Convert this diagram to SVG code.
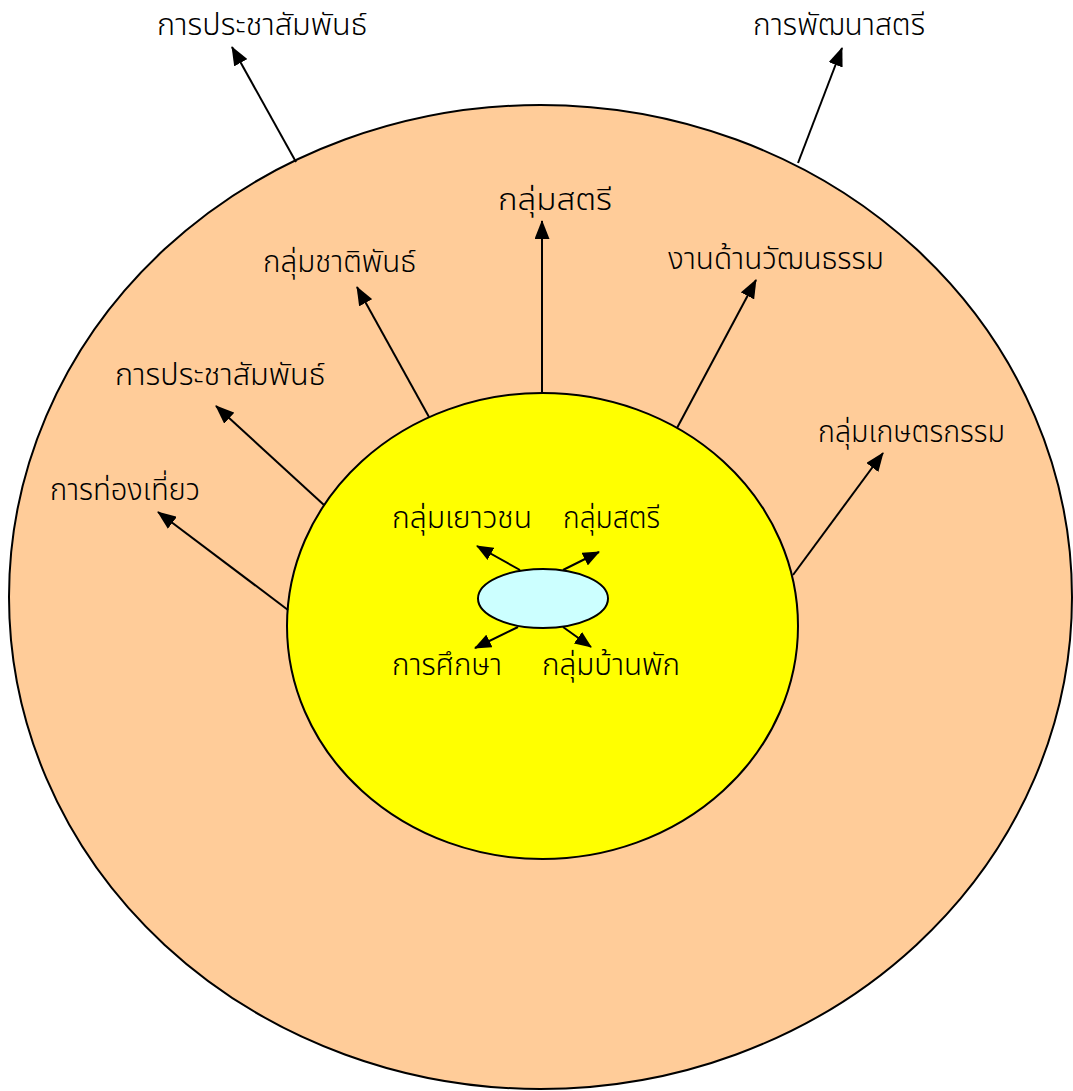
<svg xmlns="http://www.w3.org/2000/svg" width="1073" height="1091" viewBox="0 0 1073 1091">
<style>
.t{font-family:"Noto Sans Thai","Noto Sans","DejaVu Sans",sans-serif;font-size:30px;font-weight:300;fill:#000}
.c{stroke:#000;stroke-width:2;fill:none}
.e{stroke:#000;stroke-width:2}
</style>
<defs>
<marker id="a" viewBox="0 0 19 15" refX="18" refY="7.5" markerWidth="19" markerHeight="15" markerUnits="userSpaceOnUse" orient="auto">
<path d="M0,0 L19,7.5 L0,15 z" fill="#000"/>
</marker>
<marker id="b" viewBox="0 0 17 14" refX="16" refY="7" markerWidth="17" markerHeight="14" markerUnits="userSpaceOnUse" orient="auto">
<path d="M0,0 L17,7 L0,14 z" fill="#000"/>
</marker>
</defs>
<rect width="1073" height="1091" fill="#fff"/>
<g id="outer"><ellipse class="e" cx="540.5" cy="597" rx="531.5" ry="492" fill="#FFCC99"/></g>
<g id="middle"><ellipse class="e" cx="542.5" cy="626" rx="255.5" ry="233" fill="#FFFF00"/></g>
<g id="core"><ellipse class="e" cx="543" cy="598.5" rx="65" ry="29.5" fill="#CCFFFF"/></g>
<g id="connectors">
<line class="c" x1="296" y1="162" x2="232" y2="47" marker-end="url(#a)"/>
<line class="c" x1="798" y1="163" x2="842" y2="48" marker-end="url(#a)"/>
<line class="c" x1="542" y1="393" x2="542" y2="221" marker-end="url(#a)"/>
<line class="c" x1="429" y1="417" x2="357" y2="287" marker-end="url(#a)"/>
<line class="c" x1="677" y1="428" x2="756" y2="280" marker-end="url(#a)"/>
<line class="c" x1="793" y1="575" x2="883" y2="453" marker-end="url(#a)"/>
<line class="c" x1="324" y1="505" x2="216" y2="406" marker-end="url(#a)"/>
<line class="c" x1="288" y1="610" x2="158" y2="512" marker-end="url(#a)"/>
<line class="c" x1="520" y1="570" x2="477" y2="546" marker-end="url(#b)"/>
<line class="c" x1="563" y1="570" x2="599" y2="552" marker-end="url(#b)"/>
<line class="c" x1="518" y1="627" x2="475" y2="648" marker-end="url(#b)"/>
<line class="c" x1="563" y1="627" x2="591" y2="647" marker-end="url(#b)"/>
</g>
<g id="labels">
<text class="t" x="157" y="35" textLength="210" lengthAdjust="spacingAndGlyphs">การประชาสัมพันธ์</text>
<text class="t" x="753" y="35" textLength="172" lengthAdjust="spacingAndGlyphs">การพัฒนาสตรี</text>
<text class="t" x="498" y="210" textLength="114" lengthAdjust="spacingAndGlyphs">กลุ่มสตรี</text>
<text class="t" x="263" y="272" textLength="153" lengthAdjust="spacingAndGlyphs">กลุ่มชาติพันธ์</text>
<text class="t" x="668" y="269" textLength="216" lengthAdjust="spacingAndGlyphs">งานด้านวัฒนธรรม</text>
<text class="t" x="818" y="442" textLength="187" lengthAdjust="spacingAndGlyphs">กลุ่มเกษตรกรรม</text>
<text class="t" x="115" y="385" textLength="210" lengthAdjust="spacingAndGlyphs">การประชาสัมพันธ์</text>
<text class="t" x="50" y="500" textLength="150" lengthAdjust="spacingAndGlyphs">การท่องเที่ยว</text>
<text class="t" x="392" y="528" textLength="140" lengthAdjust="spacingAndGlyphs">กลุ่มเยาวชน</text>
<text class="t" x="563" y="528" textLength="97" lengthAdjust="spacingAndGlyphs">กลุ่มสตรี</text>
<text class="t" x="392" y="675" textLength="110" lengthAdjust="spacingAndGlyphs">การศึกษา</text>
<text class="t" x="542" y="675" textLength="138" lengthAdjust="spacingAndGlyphs">กลุ่มบ้านพัก</text>
</g>
</svg>
